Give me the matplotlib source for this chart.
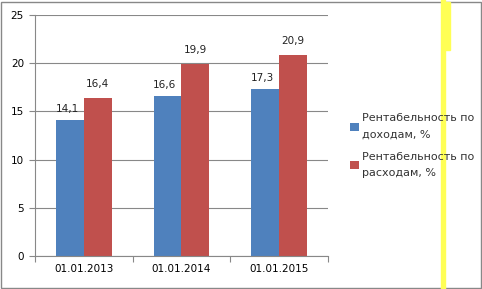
import matplotlib
matplotlib.use('Agg')
import matplotlib.pyplot as plt
import numpy as np
from matplotlib.patches import Rectangle

categories = ['01.01.2013', '01.01.2014', '01.01.2015']
income = [14.1, 16.6, 17.3]
expense = [16.4, 19.9, 20.9]
income_labels = ['14,1', '16,6', '17,3']
expense_labels = ['16,4', '19,9', '20,9']
series_names = ['Рентабельность по\nдоходам, %', 'Рентабельность по\nрасходам, %']

plt.rcParams['font.family'] = 'DejaVu Sans'
fig = plt.figure(figsize=(4.82, 2.89), dpi=100)
W, H = 482, 289
ax = fig.add_axes([35 / W, 1 - 256 / H, 293 / W, 241 / H])

x = np.arange(len(categories))
w = 0.285
b1 = ax.bar(x - w / 2, income, w, color='#4F81BD', label=series_names[0])
b2 = ax.bar(x + w / 2, expense, w, color='#C0504D', label=series_names[1])

for rect, lab in zip(b1, income_labels):
    ax.text(rect.get_x() + rect.get_width() / 2 - 0.03, rect.get_height() + 0.6, lab,
            ha='center', va='bottom', fontsize=7.5, color='#222222')
for rect, lab in zip(b2, expense_labels):
    ax.text(rect.get_x() + rect.get_width() / 2, rect.get_height() + 0.9, lab,
            ha='center', va='bottom', fontsize=7.5, color='#222222')

ax.set_xlim(-0.5, 2.5)
ax.set_ylim(0, 25)
ax.set_yticks([0, 5, 10, 15, 20, 25])
ax.set_xticks([-0.5, 0.5, 1.5, 2.5], minor=False)
ax.set_xticklabels([])
ax.set_xticks(x, minor=True)
ax.set_xticklabels(categories, minor=True)
ax.tick_params(axis='x', which='minor', length=0, labelsize=7.5, pad=6)
ax.tick_params(axis='x', which='major', length=4, direction='out', color='#888888')
ax.tick_params(axis='y', length=4, direction='out', color='#888888', labelsize=7.5, pad=4)
ax.yaxis.grid(True, color='#888888', linewidth=0.8)
ax.set_axisbelow(True)
for s in ['top', 'right']:
    ax.spines[s].set_visible(False)
for s in ['left', 'bottom']:
    ax.spines[s].set_color('#888888')
    ax.spines[s].set_linewidth(0.8)

leg = fig.legend(handles=[b1, b2], loc='upper left', bbox_to_anchor=(346 / W, 1 - 109 / H),
                 frameon=False, fontsize=8, handlelength=0.75, handleheight=0.75,
                 handletextpad=0.25, labelspacing=1.15, borderaxespad=0)
for t in leg.get_texts():
    t.set_color('#333333')
    t.set_linespacing(1.75)

# outer frame and yellow artifact stripe
fig.patches.append(Rectangle((0.5 / W, 1.5 / H), 480 / W, 286 / H, transform=fig.transFigure,
                             fill=False, edgecolor='#888888', linewidth=1))
fig.patches.append(Rectangle((441 / W, 0), 4 / W, 1, transform=fig.transFigure,
                             color='#FFFF55', zorder=5))
fig.patches.append(Rectangle((445 / W, 1 - 50 / H), 5 / W, 48 / H, transform=fig.transFigure,
                             color='#FFFF55', zorder=5))

fig.savefig('out.png', dpi=100)
